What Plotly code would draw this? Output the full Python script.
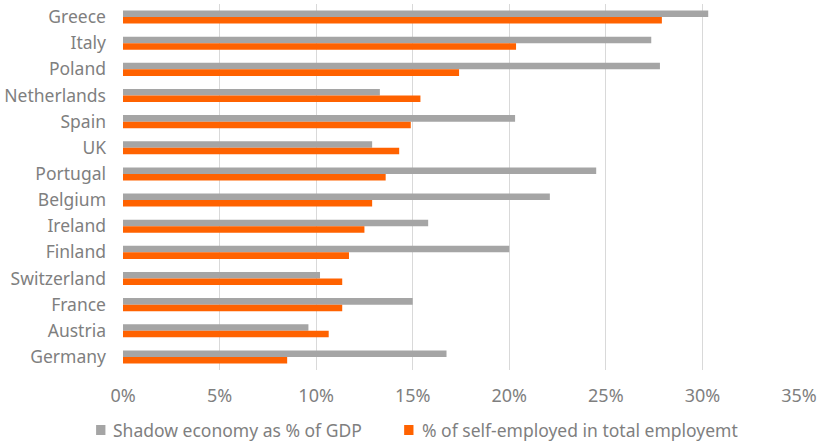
import plotly.graph_objects as go

countries = ["Greece", "Italy", "Poland", "Netherlands", "Spain", "UK", "Portugal",
             "Belgium", "Ireland", "Finland", "Switzerland", "France", "Austria", "Germany"]
shadow_economy = [30.3, 27.35, 27.8, 13.3, 20.3, 12.9, 24.5,
                  22.1, 15.8, 20.0, 10.2, 15.0, 9.6, 16.75]
self_employed = [27.9, 20.35, 17.4, 15.4, 14.9, 14.3, 13.6,
                 12.9, 12.5, 11.7, 11.35, 11.35, 10.65, 8.5]
x_ticks = [0, 5, 10, 15, 20, 25, 30, 35]
series_names = ["Shadow economy as % of GDP", "% of self-employed in total employemt"]

GRAY = "#A5A5A5"
ORANGE = "#FF6200"
TEXT = "#7F7F7F"
FONT = "Noto Sans"

fig = go.Figure()
fig.add_trace(go.Bar(
    y=countries, x=[v / 100 for v in shadow_economy], orientation="h",
    name=series_names[0], marker=dict(color=GRAY, line=dict(width=0)),
))
fig.add_trace(go.Bar(
    y=countries, x=[v / 100 for v in self_employed], orientation="h",
    name=series_names[1], marker=dict(color=ORANGE, line=dict(width=0)),
))

# compact legend below the axis: small coloured square followed by the series name
# (positions in paper units of the plot area)
legend_square_x = [-0.0398, 0.4159]
legend_text_x = [-0.0177, 0.4395]
for name, color, sx, tx in zip(series_names, [GRAY, ORANGE], legend_square_x, legend_text_x):
    fig.add_shape(
        type="rect", xref="paper", yref="paper",
        x0=sx, x1=sx + 0.0138, y0=-0.1776, y1=-0.1503,
        fillcolor=color, line=dict(width=0),
    )
    fig.add_annotation(
        xref="paper", yref="paper", x=tx, y=-0.163,
        xanchor="left", yanchor="middle", showarrow=False,
        text=name, font=dict(family=FONT, size=17.5, color=TEXT),
    )

fig.update_layout(
    width=821, height=441,
    margin=dict(l=123, r=20, t=4, b=71),
    paper_bgcolor="white", plot_bgcolor="white",
    barmode="group", bargap=0.5, bargroupgap=0,
    font=dict(family=FONT, color=TEXT, size=17),
    showlegend=False,
    xaxis=dict(
        range=[0, 0.35], tickvals=[t / 100 for t in x_ticks],
        ticktext=[f"{t}%" for t in x_ticks],
        showgrid=True, gridcolor="#D9D9D9", gridwidth=1,
        zeroline=False, showline=False, ticks="", ticklabelstandoff=13,
        tickfont=dict(size=18, color=TEXT),
    ),
    yaxis=dict(
        autorange="reversed", showgrid=False, zeroline=False, showline=False,
        ticks="", ticklabelstandoff=16, tickfont=dict(size=17.5, color=TEXT),
    ),
)

fig.write_html("out.html")
